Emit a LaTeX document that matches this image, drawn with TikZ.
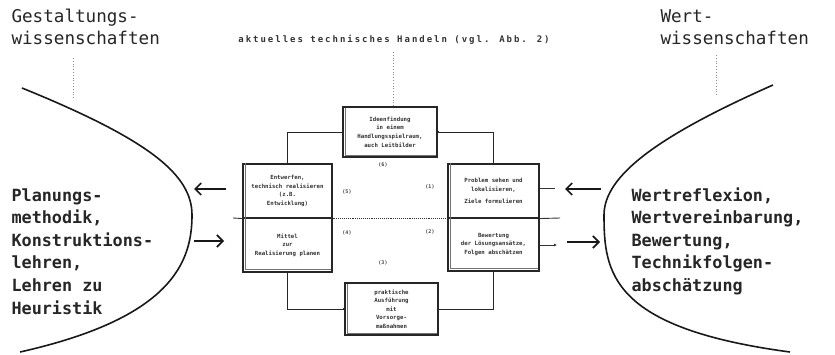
\documentclass[tikz,border=0pt]{standalone}
\usepackage{fontspec}
\setmonofont{DejaVu Sans Mono}
\newfontfamily\spacedmono[LetterSpace=22]{DejaVu Sans Mono}
\usetikzlibrary{arrows.meta}

\begin{document}
\begin{tikzpicture}[x=1pt,y=-1pt,
  stepbox/.style={draw=black!85, line width=1.1pt, inner sep=0pt, align=center,
    font=\ttfamily\bfseries\fontsize{5.7}{8.6}\selectfont, text=black!80},
  boxshadow/.style={draw=black!55, line width=0.8pt},
  flow/.style={draw=black!85, line width=0.9pt},
  startdot/.style={fill=black!85, minimum size=2.6pt, inner sep=0pt},
  bigarrow/.style={draw=black!90, line width=1.7pt,
    -{Straight Barb[length=6pt,width=12pt,line width=1.7pt]}},
  stub/.style={draw=black!80, line width=0.9pt},
  guide/.style={draw=black!45, line width=0.8pt, dotted},
  divider/.style={draw=black!80, line width=0.9pt},
  field/.style={draw=black!90, line width=1.6pt},
  title/.style={font=\ttfamily\fontsize{17.6}{22}\selectfont, text=black!85, align=left, anchor=base west},
  topic/.style={font=\ttfamily\bfseries\fontsize{16.8}{22.6}\selectfont, text=black!85, align=left, anchor=base west},
  stepno/.style={font=\ttfamily\bfseries\fontsize{5}{6}\selectfont, text=black!75}
]
\useasboundingbox (0,0) rectangle (835,355);

% field titles and their dotted guides (anchored at the last baseline)
\node[title] (gtitle) at (8,45) {Gestaltungs-\\wissenschaften};
\node[title] (wtitle) at (657,45) {Wert-\\wissenschaften};
\coordinate (gguideA) at (73,58);  \coordinate (gguideB) at (73,100);
\coordinate (wguideA) at (716,55); \coordinate (wguideB) at (716,97);
\draw[guide] (gguideA) -- (gguideB);
\draw[guide] (wguideA) -- (wguideB);

% heading of the cycle
\node[font=\spacedmono\bfseries\fontsize{9}{10}\selectfont, text=black!80, anchor=base]
  (cycle) at (394,43) {aktuelles technisches Handeln (vgl. Abb. 2)};
\coordinate (cguideA) at (393,52); \coordinate (cguideB) at (393,106);
\draw[guide] (cguideA) -- (cguideB);

% the six steps of the cycle
\node[stepbox, minimum width=94pt, minimum height=50pt] (tp) at (390,132)
  {Ideenfindung\\in einem\\Handlungsspielraum,\\auch Leitbilder};
\node[stepbox, minimum width=91pt, minimum height=54pt] (ru) at (493.5,191)
  {Problem sehen und\\lokalisieren,\\[4pt]Ziele formulieren};
\node[stepbox, minimum width=91pt, minimum height=53pt] (rl) at (493.5,244.5)
  {Bewertung\\der Lösungsansätze,\\Folgen abschätzen};
\node[stepbox, minimum width=93pt, minimum height=52pt] (bt) at (391.5,309)
  {praktische\\Ausführung\\mit\\Vorsorge-\\maßnahmen};
\node[stepbox, minimum width=89pt, minimum height=54pt] (ll) at (287.5,245)
  {Mittel\\zur\\Realisierung planen};
\node[stepbox, minimum width=89pt, minimum height=54pt] (lu) at (287.5,191)
  {Entwerfen,\\technisch realisieren\\(z.B.\\Entwicklung)};

% inner shadow lines along left and bottom edges
\draw[boxshadow] ([xshift=3pt]lu.north west) -- ([xshift=3pt,yshift=3pt]ll.south west) -- ([xshift=-2pt,yshift=3pt]ll.south east);
\draw[boxshadow] ([xshift=3pt]ru.north west) -- ([xshift=3pt,yshift=3pt]rl.south west) -- ([xshift=-2pt,yshift=3pt]rl.south east);
\draw[boxshadow] ([xshift=3pt,yshift=-2pt]tp.north west) -- ([xshift=3pt,yshift=2.5pt]tp.south west) -- ([xshift=-2pt,yshift=2.5pt]tp.south east);
\draw[boxshadow] ([xshift=3pt,yshift=-2pt]bt.north west) -- ([xshift=3pt,yshift=2.5pt]bt.south west) -- ([xshift=-2pt,yshift=2.5pt]bt.south east);

% step numbers
\node[stepno] (n1) at (430,187) {(1)};
\node[stepno] (n2) at (430,232) {(2)};
\node[stepno] (n3) at (383,263) {(3)};
\node[stepno] (n4) at (347,233) {(4)};
\node[stepno] (n5) at (347,192) {(5)};
\node[stepno] (n6) at (383,165) {(6)};

% cycle connectors
\draw[flow] (lu.north) |- (tp.west);
\draw[flow] (tp.east) -| (ru.north);
\draw[flow] (rl.south) |- (bt.east);
\draw[flow] (bt.west) -| (ll.south);
\node[startdot] (d1) at (tp.east) {};
\node[startdot] (d2) at (bt.west) {};

% horizontal divider through both columns
\coordinate (divL) at (233,218);
\coordinate (divR) at (560,218);
\draw[divider] (divL) -- (lu.south west);
\draw[divider, densely dotted] (lu.south east) -- (ru.south west);
\draw[divider] (ru.south east) -- (divR);

% exchange with the neighbouring fields
\coordinate (la1s) at (226,189); \coordinate (la1e) at (194,189);
\coordinate (la2s) at (194,241); \coordinate (la2e) at (224,241);
\coordinate (ra1s) at (601,189); \coordinate (ra1e) at (565,189);
\coordinate (ra2s) at (567,242); \coordinate (ra2e) at (600,242);
\draw[bigarrow] (la1s) -- (la1e);
\draw[bigarrow] (la2s) -- (la2e);
\draw[bigarrow] (ra1s) -- (ra1e);
\draw[bigarrow] (ra2s) -- (ra2e);
\coordinate (rs1) at (555,188);
\coordinate (rs2) at (557,245);
\draw[stub] (ru.east |- rs1) -- (rs1);
\draw[stub, -{Latex[length=3pt,width=3pt]}] (rl.east |- rs2) -- (rs2);

% the two neighbouring fields
\draw[field] (22,88) .. controls (150,140) and (192,175) .. (192,215)
  .. controls (192,262) and (172,318) .. (20,352);
\draw[field] (773,85) .. controls (660,135) and (604,175) .. (604,215)
  .. controls (604,272) and (610,328) .. (790,352);

\node[topic] (gtopics) at (8,314)
  {Planungs-\\methodik,\\Konstruktions-\\lehren,\\Lehren zu\\Heuristik};
\node[topic] (wtopics) at (628,291.4)
  {Wertreflexion,\\Wertvereinbarung,\\Bewertung,\\Technikfolgen-\\abschätzung};
\end{tikzpicture}
\end{document}
